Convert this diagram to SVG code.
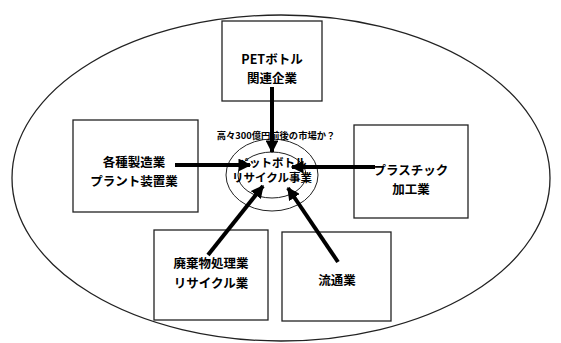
<svg xmlns="http://www.w3.org/2000/svg" width="561" height="343" viewBox="0 0 561 343">
<defs>
<marker id="ah" viewBox="0 0 10 10" refX="9" refY="5" markerWidth="3.2" markerHeight="3.2" orient="auto" markerUnits="strokeWidth">
<path d="M0,0 L10,5 L0,10 Z" fill="#000"/>
</marker>
<style>
.box{fill:#fff;stroke:#222;stroke-width:1.3}
.t{font-family:"Noto Sans CJK JP","Liberation Sans",sans-serif;font-weight:bold;font-size:12.5px;fill:#000;text-anchor:middle}
.c{font-family:"Noto Sans CJK JP","Liberation Sans",sans-serif;font-weight:bold;fill:#000;text-anchor:middle}
.ar{stroke:#000;stroke-width:4;fill:none;marker-end:url(#ah)}
</style>
</defs>
<rect width="561" height="343" fill="#fff"/>
<ellipse cx="281" cy="178" rx="269" ry="163" fill="none" stroke="#222" stroke-width="1.3"/>
<g id="center">
<ellipse cx="272" cy="175" rx="46" ry="36" fill="none" stroke="#222" stroke-width="1"/>
<ellipse cx="272" cy="175" rx="34" ry="23" fill="none" stroke="#222" stroke-width="1"/>
<text class="c" x="276" y="139" font-size="9.3">高々300億円前後の市場か？</text>
<text class="c" x="272" y="167" font-size="11.5">ペットボトル</text>
<text class="c" x="272" y="182" font-size="11.5">リサイクル事業</text>
</g>
<g id="pet">
<rect class="box" x="222" y="21" width="100" height="80"/>
<text class="t" x="272" y="64">PETボトル</text>
<text class="t" x="272" y="83">関連企業</text>
</g>
<g id="mfg">
<rect class="box" x="73" y="120" width="125" height="92"/>
<text class="t" x="134" y="167">各種製造業</text>
<text class="t" x="134" y="186">プラント装置業</text>
</g>
<g id="plastic">
<rect class="box" x="354" y="125" width="114" height="93"/>
<text class="t" x="411" y="175">プラスチック</text>
<text class="t" x="411" y="194">加工業</text>
</g>
<g id="waste">
<rect class="box" x="154" y="230" width="114" height="90"/>
<text class="t" x="211" y="268">廃棄物処理業</text>
<text class="t" x="211" y="288">リサイクル業</text>
</g>
<g id="dist">
<rect class="box" x="282" y="232" width="109" height="89"/>
<text class="t" x="337" y="285">流通業</text>
</g>
<g id="connectors">
<line class="ar" x1="272" y1="87" x2="272" y2="152"/>
<line class="ar" x1="175" y1="165" x2="250" y2="165"/>
<line class="ar" x1="375" y1="167" x2="292" y2="167"/>
<line class="ar" x1="208" y1="255" x2="263" y2="186"/>
<line class="ar" x1="338" y1="262" x2="288" y2="188"/>
</g>
</svg>
